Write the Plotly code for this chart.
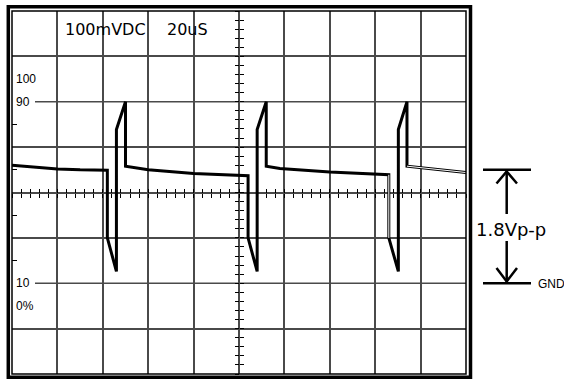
import plotly.graph_objects as go

# ---------------- data (screen divisions: x 0..10, y 0..8) ----------------
trace_x = [0.0, 0.5, 1.0, 1.5, 2.10, 2.10, 2.30, 2.30, 2.50, 2.50,
           3.00, 4.00, 4.95, 5.20, 5.20, 5.40, 5.40, 5.60, 5.60,
           5.90, 7.00, 8.00, 8.30, 8.30, 8.51, 8.51, 8.70, 8.70, 9.00, 10.0]
trace_y = [4.60, 4.56, 4.52, 4.50, 4.49, 3.00, 2.26, 5.39, 6.00, 4.58,
           4.50, 4.42, 4.39, 4.37, 3.00, 2.26, 5.39, 6.00, 4.58,
           4.53, 4.45, 4.40, 4.39, 3.00, 2.26, 5.39, 6.00, 4.58, 4.55, 4.44]

grid_x = [0, 1, 2, 3, 4, 5, 6, 7, 8, 9, 10]
grid_y_full = [1, 3, 4, 5, 7]
grid_y_partial = [2, 6]            # 10 % and 90 % lines
half_ticks_y = [2.5, 3.5, 4.5, 5.5]

level_labels = ["100", "90", "10", "0%"]
level_pos = [6.5, 6.0, 2.0, 1.5]

title_volts = "100mVDC"
title_time = "20uS"
amp_label = "1.8Vp-p"
gnd_label = "GND"
amp_top = 4.5
amp_gnd = 2.0

# ---------------- layout helpers ----------------
W, H = 564, 379
L, R, T, B = 12, 98, 11, 5
PW, PH = W - L - R, H - T - B


def PX(px):
    return (px - L) / PW


def PY(py):
    return (H - B - py) / PH


GRID = "#4a4a4a"

fig = go.Figure()

fig.add_trace(go.Scatter(x=trace_x, y=trace_y, mode="lines",
                         line=dict(color="black", width=3),
                         hoverinfo="skip", showlegend=False))
# hollow-looking tail of the last sweep
hx = trace_x[22:24] + [None] + trace_x[27:]
hy = trace_y[22:24] + [None] + trace_y[27:]
fig.add_trace(go.Scatter(x=hx, y=hy, mode="lines",
                         line=dict(color="white", width=1),
                         hoverinfo="skip", showlegend=False))

# dummy traces so the centre tick axes are drawn
for xa, ya in [("x2", "y"), ("x3", "y"), ("x", "y2"), ("x", "y3")]:
    fig.add_trace(go.Scatter(x=[0], y=[0], xaxis=xa, yaxis=ya, mode="markers",
                             marker=dict(opacity=0), hoverinfo="skip",
                             showlegend=False))

common_x = dict(range=[0, 10], showticklabels=False, zeroline=False,
                showline=False, fixedrange=True)
common_y = dict(range=[0, 8], showticklabels=False, zeroline=False,
                showline=False, fixedrange=True)

fig.update_layout(
    width=W, height=H,
    margin=dict(l=L, r=R, t=T, b=B, pad=0),
    paper_bgcolor="white", plot_bgcolor="white",
    xaxis=dict(**common_x, tickvals=grid_x, ticks="", showgrid=True,
               gridcolor=GRID, gridwidth=1.5),
    yaxis=dict(**common_y, tickvals=grid_y_full, ticks="", showgrid=True,
               gridcolor=GRID, gridwidth=1.5,
               minor=dict(tickvals=half_ticks_y, ticks="inside", ticklen=5,
                          tickwidth=1, tickcolor="black", showgrid=False)),
    xaxis2=dict(**common_x, overlaying="x", anchor="free", position=0.5,
                side="bottom", dtick=0.2, tick0=0, ticks="outside", ticklen=4,
                tickwidth=1, tickcolor="black", showgrid=False),
    xaxis3=dict(**common_x, overlaying="x", anchor="free", position=0.5,
                side="bottom", dtick=0.2, tick0=0, ticks="inside", ticklen=4,
                tickwidth=1, tickcolor="black", showgrid=False),
    yaxis2=dict(**common_y, overlaying="y", anchor="free", position=0.5,
                side="left", dtick=0.2, tick0=0, ticks="outside", ticklen=4,
                tickwidth=1, tickcolor="black", showgrid=False),
    yaxis3=dict(**common_y, overlaying="y", anchor="free", position=0.5,
                side="left", dtick=0.2, tick0=0, ticks="inside", ticklen=4,
                tickwidth=1, tickcolor="black", showgrid=False),
    showlegend=False,
)

shapes = []
# partial 10 % / 90 % lines
for gy in grid_y_partial:
    shapes.append(dict(type="line", xref="paper", yref="y", layer="below",
                       x0=PX(35), x1=1, y0=gy, y1=gy,
                       line=dict(color=GRID, width=1.5)))
# inner border
shapes.append(dict(type="rect", xref="paper", yref="paper", x0=0, x1=1, y0=0, y1=1,
                   line=dict(color="black", width=1.5)))
# outer thick border
shapes.append(dict(type="rect", xref="paper", yref="paper",
                   x0=PX(8.3), x1=PX(470.5), y0=PY(377.3), y1=PY(6.8),
                   line=dict(color="black", width=3.5)))

# amplitude marker
ax = PX(506.7)
ytop = amp_top / 8
ygnd = amp_gnd / 8
for yy in (ytop, ygnd):
    shapes.append(dict(type="line", xref="paper", yref="paper",
                       x0=PX(483), x1=PX(531), y0=yy, y1=yy,
                       line=dict(color="black", width=2.5)))
shapes.append(dict(type="line", xref="paper", yref="paper",
                   x0=ax, x1=ax, y0=ytop - 0.004, y1=PY(214),
                   line=dict(color="black", width=2.5)))
shapes.append(dict(type="line", xref="paper", yref="paper",
                   x0=ax, x1=ax, y0=PY(241), y1=ygnd + 0.004,
                   line=dict(color="black", width=2.5)))
shapes.append(dict(type="path", xref="paper", yref="paper",
                   path=f"M{PX(496.5)},{PY(183.5)} L{ax},{PY(171.5)} L{PX(517)},{PY(183.5)}",
                   line=dict(color="black", width=2.5)))
shapes.append(dict(type="path", xref="paper", yref="paper",
                   path=f"M{PX(496.5)},{PY(268)} L{ax},{PY(281.5)} L{PX(517)},{PY(268)}",
                   line=dict(color="black", width=2.5)))
fig.update_layout(shapes=shapes)

ann = []
lab_font = dict(family="Liberation Sans, Arial, sans-serif", size=12, color="#000000")
for txt, pos in zip(level_labels, level_pos):
    ann.append(dict(text=txt, xref="paper", yref="y", x=PX(14), y=pos,
                    xanchor="left", yanchor="middle", showarrow=False,
                    font=lab_font))
top_font = dict(family="DejaVu Sans, sans-serif", size=16, color="#000000")
ann.append(dict(text=title_volts, xref="paper", yref="paper", x=PX(63), y=PY(30),
                xanchor="left", yanchor="middle", showarrow=False, font=top_font))
ann.append(dict(text=title_time, xref="paper", yref="paper", x=PX(165), y=PY(30),
                xanchor="left", yanchor="middle", showarrow=False, font=top_font))
ann.append(dict(text=amp_label, xref="paper", yref="paper", x=PX(510.5), y=PY(229),
                xanchor="center", yanchor="middle", showarrow=False,
                font=dict(family="DejaVu Sans, sans-serif", size=18, color="#000000")))
ann.append(dict(text=gnd_label, xref="paper", yref="paper", x=PX(536), y=PY(284),
                xanchor="left", yanchor="middle", showarrow=False,
                font=dict(family="Liberation Sans Narrow, Liberation Sans, sans-serif",
                          size=12, color="#000000")))
fig.update_layout(annotations=ann)

fig.write_html("out.html", config=dict(displayModeBar=False),
               post_script="document.body.style.margin='0';")
